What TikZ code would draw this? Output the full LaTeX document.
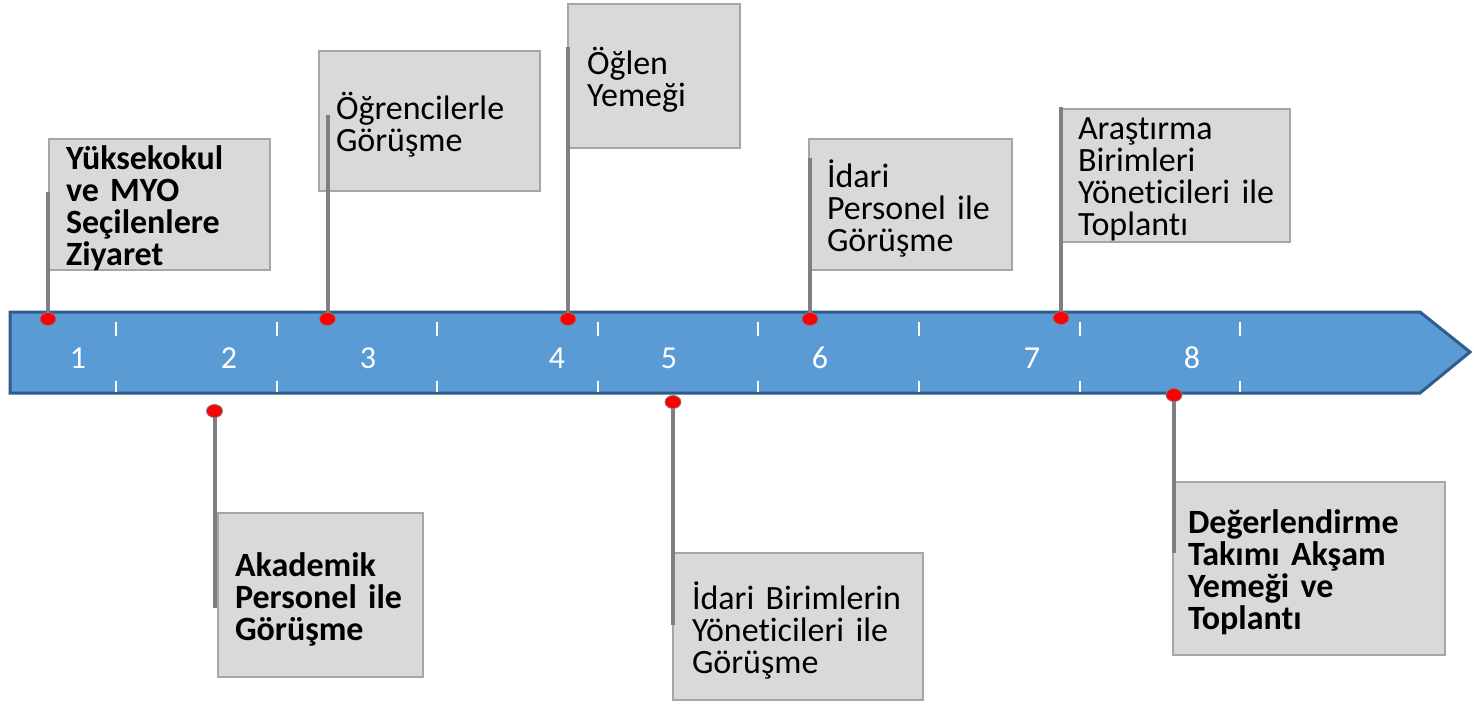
\documentclass[tikz,border=0pt]{standalone}
\usepackage{fontspec}
\setmainfont{Carlito}[Ligatures=NoCommon]
\usetikzlibrary{shapes.geometric}
\definecolor{barfill}{HTML}{5B9BD5}
\definecolor{baredge}{HTML}{2F5C8A}
\definecolor{flagfill}{HTML}{D9D9D9}
\definecolor{flagedge}{HTML}{A6A6A6}
\definecolor{polegray}{HTML}{7F7F7F}

\begin{document}
\begin{tikzpicture}[x=0.5pt, y=-0.5pt,
    flagbox/.style={draw=flagedge, fill=flagfill, line width=0.75pt},
    flagtext/.style={align=left, inner sep=0pt, font=\fontsize{17}{16}\selectfont, yshift=-2pt},
    flagbold/.style={flagtext, font=\fontsize{17}{16}\selectfont\bfseries},
    pole/.style={draw=polegray, line width=2pt},
    pin/.style={ellipse, fill=red, draw=polegray, line width=0.4pt, minimum width=8pt, minimum height=6.5pt, inner sep=0pt},
    tick/.style={white, line width=1pt},
    daynum/.style={text=white, font=\fontsize{16}{16}\selectfont}]
\useasboundingbox (0,0) rectangle (1474,703);

% time bar
\draw[draw=baredge, fill=barfill, line width=1.5pt] (10,312) -- (1420,312) -- (1470,352) -- (1420,393) -- (10,393) -- cycle;
\draw[tick] (116,322) -- (116,336);
\draw[tick] (116,381) -- (116,392);
\draw[tick] (277,322) -- (277,336);
\draw[tick] (277,381) -- (277,392);
\draw[tick] (437,322) -- (437,336);
\draw[tick] (437,381) -- (437,392);
\draw[tick] (598,322) -- (598,336);
\draw[tick] (598,381) -- (598,392);
\draw[tick] (758,322) -- (758,336);
\draw[tick] (758,381) -- (758,392);
\draw[tick] (919,322) -- (919,336);
\draw[tick] (919,381) -- (919,392);
\draw[tick] (1080,322) -- (1080,336);
\draw[tick] (1080,381) -- (1080,392);
\draw[tick] (1240,322) -- (1240,336);
\draw[tick] (1240,381) -- (1240,392);
\node[daynum] (n1) at (78,358) {1};
\node[daynum] (n2) at (229,358) {2};
\node[daynum] (n3) at (368,358) {3};
\node[daynum] (n4) at (557,358) {4};
\node[daynum] (n5) at (669,358) {5};
\node[daynum] (n6) at (820,358) {6};
\node[daynum] (n7) at (1032,358) {7};
\node[daynum] (n8) at (1192,358) {8};

% flags above the bar
\draw[flagbox] (49,139) rectangle (270,270) node[flagbold, midway, text width=93.5pt] (t1) {Yüksekokul\\ve~MYO\\Seçilenlere\\Ziyaret};
\draw[flagbox] (319,51) rectangle (540,191) node[flagtext, midway, text width=93.5pt] (t3) {Öğrencilerle\\Görüşme};
\draw[flagbox] (568,4) rectangle (740,148) node[flagtext, midway, text width=67pt] (t4) {Öğlen\\Yemeği};
\draw[flagbox] (809,139) rectangle (1012,270) node[flagtext, midway, text width=83.5pt] (t6) {İdari\\Personel~ile\\Görüşme};
\draw[flagbox] (1062,109) rectangle (1290,242) node[flagtext, midway, text width=98pt] (t7) {Araştırma\\Birimleri\\Yöneticileri~ile\\Toplantı};

% flags below the bar
\draw[flagbox] (218,513) rectangle (423,677) node[flagbold, midway, text width=85.5pt] (t2) {Akademik\\Personel~ile\\Görüşme};
\draw[flagbox] (673,553) rectangle (923,700) node[flagtext, midway, text width=106pt] (t5) {İdari~Birimlerin\\Yöneticileri~ile\\Görüşme};
\draw[flagbox] (1173,482) rectangle (1445,655) node[flagbold, midway, text width=121pt] (t8) {Değerlendirme\\Takımı~Akşam\\Yemeği~ve\\Toplantı};

% poles
\coordinate (a1) at (48,319);
\coordinate (a2) at (214.5,411);
\coordinate (a3) at (327.5,319);
\coordinate (a4) at (568,319);
\coordinate (a5) at (673,402);
\coordinate (a6) at (810,319);
\coordinate (a7) at (1061,318);
\coordinate (a8) at (1174,395);
\coordinate (p1) at (48,192);
\coordinate (p2) at (214.5,608);
\coordinate (p3) at (327.5,115);
\coordinate (p4) at (568,47);
\coordinate (p5) at (673,625);
\coordinate (p6) at (810,158);
\coordinate (p7) at (1061,107);
\coordinate (p8) at (1174,553);
\draw[pole] (a1) -- (p1);
\draw[pole] (a2) -- (p2);
\draw[pole] (a3) -- (p3);
\draw[pole] (a4) -- (p4);
\draw[pole] (a5) -- (p5);
\draw[pole] (a6) -- (p6);
\draw[pole] (a7) -- (p7);
\draw[pole] (a8) -- (p8);
\node[pin] (d1) at (a1) {};
\node[pin] (d2) at (a2) {};
\node[pin] (d3) at (a3) {};
\node[pin] (d4) at (a4) {};
\node[pin] (d5) at (a5) {};
\node[pin] (d6) at (a6) {};
\node[pin] (d7) at (a7) {};
\node[pin] (d8) at (a8) {};

\end{tikzpicture}
\end{document}
